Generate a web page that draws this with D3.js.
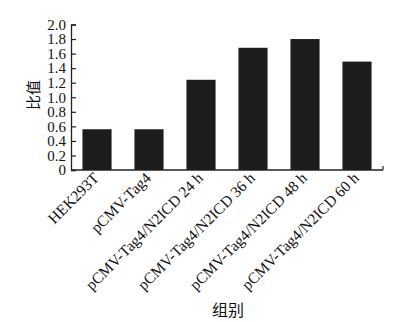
<!DOCTYPE html>
<html><head><meta charset="utf-8">
<script src="https://cdn.jsdelivr.net/npm/d3@7/dist/d3.min.js"></script>
<style>body{margin:0;background:#fff}svg{display:block}</style>
</head><body>
<svg id="c" width="418" height="322"></svg>
<script>
const categories = ["HEK293T","pCMV-Tag4","pCMV-Tag4/N2ICD 24 h","pCMV-Tag4/N2ICD 36 h","pCMV-Tag4/N2ICD 48 h","pCMV-Tag4/N2ICD 60 h"];
const values = [0.56, 0.56, 1.24, 1.68, 1.80, 1.49];
const yTicks = [0,0.2,0.4,0.6,0.8,1.0,1.2,1.4,1.6,1.8,2.0];

const svg = d3.select("#c");
const font = "'Liberation Serif','DejaVu Serif',serif";
const L = 71, R = 383, T = 24.5, B = 170;
const x = d3.scaleBand().domain(categories).range([L, R]).paddingInner(0.44).paddingOuter(0.22);
const y = d3.scaleLinear().domain([0, 2]).range([B, T]);

svg.selectAll("rect.bar").data(values).enter().append("rect")
  .attr("class","bar")
  .attr("x", (d,i)=>x(categories[i]))
  .attr("width", x.bandwidth())
  .attr("y", d=>y(d))
  .attr("height", d=>B - y(d))
  .attr("fill", "#1c1c1c");

const ya = svg.append("g").attr("transform", `translate(${L},0)`)
  .call(d3.axisLeft(y).tickValues(yTicks).tickSize(-5).tickPadding(5)
    .tickFormat(d => d === 0 ? "0" : d3.format(".1f")(d)));
ya.select(".domain").attr("stroke","#222").attr("stroke-width",1.3);
ya.selectAll(".tick line").attr("stroke","#222").attr("stroke-width",1.2);
ya.selectAll("text").attr("font-family", font).attr("font-size", 15).attr("fill","#111");

svg.append("line").attr("x1", L).attr("x2", R).attr("y1", B).attr("y2", B)
  .attr("stroke","#222").attr("stroke-width",1.3);
svg.append("line").attr("x1", R).attr("x2", R).attr("y1", B).attr("y2", B-4)
  .attr("stroke","#222").attr("stroke-width",1.2);

svg.selectAll("text.xl").data(categories).enter().append("text")
  .attr("class","xl")
  .attr("transform", d => `translate(${x(d)+x.bandwidth()/2+3},${B+9}) rotate(-45)`)
  .attr("text-anchor","end")
  .attr("font-family", font).attr("font-size", 15.5).attr("fill","#111")
  .text(d=>d);

svg.append("text")
  .attr("transform", `translate(39,95) rotate(-90)`)
  .attr("text-anchor","middle")
  .attr("font-family", "'Noto Sans CJK SC',sans-serif").attr("font-size", 15).attr("fill","#111")
  .text("比值");

svg.append("text")
  .attr("x", 228).attr("y", 316)
  .attr("text-anchor","middle")
  .attr("font-family", "'Noto Sans CJK SC',sans-serif").attr("font-size", 16).attr("fill","#111")
  .text("组别");
</script>
</body></html>
